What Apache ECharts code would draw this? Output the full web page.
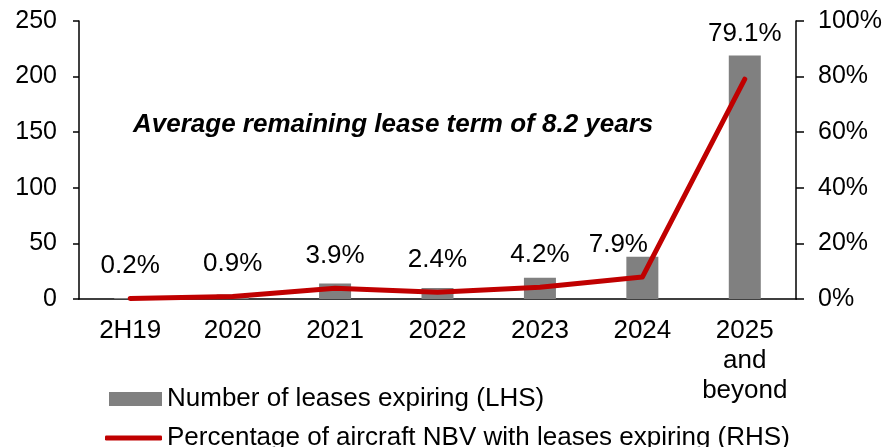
<!DOCTYPE html>
<html>
<head>
<meta charset="utf-8">
<script src="https://cdn.jsdelivr.net/npm/echarts@6/dist/echarts.min.js"></script>
<style>
  html,body{margin:0;padding:0;background:#fff;}
  #chart{width:889px;height:447px;}
</style>
</head>
<body>
<div id="chart"></div>
<script>
// categories and values
const categories = ['2H19', '2020', '2021', '2022', '2023', '2024', '2025\nand\nbeyond']
const leasesExpiring = [1, 4, 14, 10, 19, 38, 219]
const nbvPercent = [0.2, 0.9, 3.9, 2.4, 4.2, 7.9, 79.1]
const leftTicks = [0, 50, 100, 150, 200, 250]
const rightTicks = [0, 20, 40, 60, 80, 100]

const FONT = '"Liberation Sans", Arial, sans-serif'

const chart = echarts.init(document.getElementById('chart'))

// a few labels sit a bit off in the original
const labelTweak = {5: {offset: [-24, 0]}, 6: {distance: 32}}

const option = {
  animation: false,
  textStyle: {fontFamily: FONT, color: '#000'},
  grid: {left: 79, right: 93, top: 21, bottom: 148},
  graphic: [{
    type: 'text',
    left: 133,
    top: 112,
    style: {
      text: 'Average remaining lease term of 8.2 years',
      font: 'italic bold 26px ' + FONT,
      fill: '#000'
    }
  }],
  legend: [{
    left: 104,
    top: 381,
    itemWidth: 53,
    itemHeight: 14,
    itemGap: 5,
    textStyle: {fontSize: 26, color: '#000', fontFamily: FONT},
    data: [{name: 'Number of leases expiring (LHS)', icon: 'rect'}]
  }, {
    left: 100,
    top: 420,
    itemWidth: 57,
    itemHeight: 5,
    itemGap: 5,
    textStyle: {fontSize: 26, color: '#000', fontFamily: FONT},
    data: [{name: 'Percentage of aircraft NBV with leases expiring (RHS)', icon: 'roundRect'}]
  }],
  xAxis: {
    type: 'category',
    data: categories,
    axisLine: {lineStyle: {color: '#000', width: 1.5}},
    axisTick: {show: false},
    axisLabel: {fontSize: 26, color: '#000', margin: 17, lineHeight: 30, interval: 0}
  },
  yAxis: [{
    type: 'value',
    min: leftTicks[0],
    max: leftTicks[leftTicks.length - 1],
    interval: leftTicks[1] - leftTicks[0],
    splitLine: {show: false},
    axisLine: {show: true, lineStyle: {color: '#000', width: 1.5}},
    axisTick: {show: true, length: 6, lineStyle: {color: '#000', width: 1.5}},
    axisLabel: {fontSize: 25, color: '#000', margin: 22}
  }, {
    type: 'value',
    position: 'right',
    min: rightTicks[0],
    max: rightTicks[rightTicks.length - 1],
    interval: rightTicks[1] - rightTicks[0],
    splitLine: {show: false},
    axisLine: {show: true, lineStyle: {color: '#000', width: 1.5}},
    axisTick: {show: true, length: 8, lineStyle: {color: '#000', width: 1.5}},
    axisLabel: {fontSize: 25, color: '#000', margin: 22, formatter: '{value}%'}
  }],
  series: [{
    name: 'Number of leases expiring (LHS)',
    type: 'bar',
    yAxisIndex: 0,
    barWidth: 32,
    itemStyle: {color: '#808080'},
    data: leasesExpiring
  }, {
    name: 'Percentage of aircraft NBV with leases expiring (RHS)',
    type: 'line',
    yAxisIndex: 1,
    symbol: 'circle',
    symbolSize: 1,
    showSymbol: true,
    itemStyle: {color: '#C00000'},
    lineStyle: {color: '#C00000', width: 5, cap: 'round', join: 'round'},
    label: {
      show: true,
      position: 'top',
      distance: 19,
      fontSize: 26,
      color: '#000',
      fontFamily: FONT,
      formatter: '{c}%'
    },
    data: nbvPercent.map((v, i) => labelTweak[i] ? {value: v, label: labelTweak[i]} : v)
  }]
}

chart.setOption(option)
</script>
</body>
</html>
